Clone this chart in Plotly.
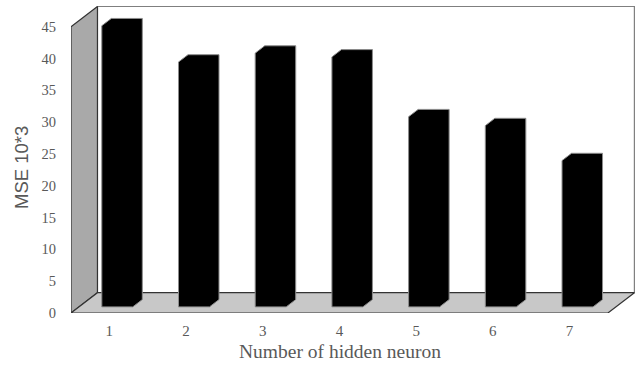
import plotly.graph_objects as go

categories = [1, 2, 3, 4, 5, 6, 7]
mse = [44.2, 38.5, 39.9, 39.3, 29.9, 28.5, 23.0]
y_ticks = [0, 5, 10, 15, 20, 25, 30, 35, 40, 45]
x_title = "Number of hidden neuron"
y_title = "MSE 10*3"

# 3D-look styling (depth offsets in axis units)
DX, DY = 0.345, 3.2        # floor / wall depth
F0, F1 = 0.30, 0.66        # bar front / back depth fractions
HW = 0.202                 # bar half width
YMAX = 45

fig = go.Figure()

x0, x1 = 0.5, len(categories) + 0.5
# back wall
fig.add_trace(go.Scatter(x=[x0 + DX, x1 + DX, x1 + DX, x0 + DX, x0 + DX],
                         y=[DY, DY, YMAX + DY, YMAX + DY, DY],
                         fill="toself", fillcolor="white", mode="lines",
                         line=dict(color="#7f7f7f", width=1.2), hoverinfo="skip",
                         showlegend=False, cliponaxis=False))
# side wall
fig.add_trace(go.Scatter(x=[x0, x0, x0 + DX, x0 + DX, x0],
                         y=[0, YMAX, YMAX + DY, DY, 0],
                         fill="toself", fillcolor="#a9a9a9", mode="lines",
                         line=dict(color="#333333", width=1.2), hoverinfo="skip",
                         showlegend=False, cliponaxis=False))
# floor
fig.add_trace(go.Scatter(x=[x0, x1, x1 + DX, x0 + DX, x0],
                         y=[0, 0, DY, DY, 0],
                         fill="toself", fillcolor="#c8c8c8", mode="lines",
                         line=dict(color="#333333", width=1.2), hoverinfo="skip",
                         showlegend=False, cliponaxis=False))

# bar front faces
fig.add_trace(go.Bar(x=[c + F0 * DX for c in categories], y=mse,
                     base=[F0 * DY] * len(categories), width=2 * HW,
                     marker=dict(color="black", line=dict(width=0)),
                     showlegend=False))

# bar silhouettes (front + top + side)
for c, v in zip(categories, mse):
    xa, xb = c - HW + F0 * DX, c + HW + F0 * DX
    xc, xd = c - HW + F1 * DX, c + HW + F1 * DX
    ya, yb = F0 * DY, F1 * DY
    fig.add_trace(go.Scatter(
        x=[xa, xa, xc, xd, xd, xb, xa],
        y=[ya, v + ya, v + yb, v + yb, yb, ya, ya],
        fill="toself", fillcolor="black", mode="lines",
        line=dict(color="#8c8c8c", width=1), hoverinfo="skip",
        showlegend=False, cliponaxis=False))

fig.update_layout(
    width=637, height=372,
    margin=dict(l=71, r=2, t=6, b=59),
    paper_bgcolor="white", plot_bgcolor="white",
    xaxis=dict(range=[0.5, 7.853], tickvals=categories,
               ticktext=[str(c) for c in categories],
               showgrid=False, zeroline=False, showline=False,
               ticks="", ticklabelstandoff=7,
               tickfont=dict(family="Liberation Serif", size=15, color="#595959")),
    yaxis=dict(range=[0, 48.27], tickvals=y_ticks,
               showgrid=False, zeroline=False, showline=False,
               ticks="", ticklabelstandoff=14,
               tickfont=dict(family="Liberation Serif", size=14.5, color="#595959")),
    bargap=0,
    annotations=[
        dict(text=x_title, xref="paper", yref="paper", x=0.477, y=-0.127,
             xanchor="center", yanchor="middle", showarrow=False,
             font=dict(family="Liberation Serif", size=19.5, color="#595959")),
        dict(text=y_title, xref="paper", yref="paper", x=-0.0878, y=0.474,
             xanchor="center", yanchor="middle", textangle=-90, showarrow=False,
             font=dict(family="Liberation Sans", size=18.5, color="#595959")),
    ],
)

fig.write_html("out.html")
